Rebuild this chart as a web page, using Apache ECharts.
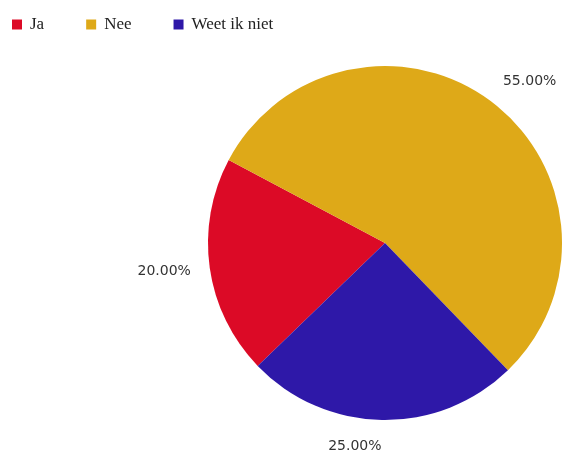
<!DOCTYPE html>
<html style="height: 100%">
  <head>
    <meta charset="utf-8" />
  </head>
  <body style="height: 100%; margin: 0; background: #fff">
    <div id="container" style="width: 562px; height: 457px"></div>

    <script src="https://cdn.jsdelivr.net/npm/echarts@6/dist/echarts.min.js"></script>
    <script type="text/javascript">
      var categories = ["Ja", "Nee", "Weet ik niet"];
      var values = [20, 55, 25];
      var colors = ["#dc0a26", "#dea918", "#2e18a8"];

      var dom = document.getElementById("container");
      var myChart = echarts.init(dom);

      var pieCenter = [385, 243];
      var pieRadius = 177;
      var startAngle = 224;
      var labelRadius = 196;

      var pieData = [];
      for (var i = 0; i < categories.length; i++) {
        pieData.push({
          name: categories[i],
          value: values[i],
          itemStyle: { color: colors[i] },
        });
      }

      var total = 0;
      values.forEach(function (v) {
        total += v;
      });

      // place labels just outside the slice, pushed out by half the box
      function placeLabel(params) {
        var cum = 0;
        for (var k = 0; k < params.dataIndex; k++) cum += values[k];
        var mid = cum + values[params.dataIndex] / 2;
        var ang = ((startAngle - (mid / total) * 360) * Math.PI) / 180;
        var ux = Math.cos(ang);
        var uy = -Math.sin(ang);
        var w = params.labelRect.width;
        var h = params.labelRect.height;
        return {
          x: pieCenter[0] + ux * labelRadius + (ux >= 0 ? 1 : -1) * (w / 2),
          y: pieCenter[1] + uy * labelRadius + uy * (h / 2),
          align: "center",
          verticalAlign: "middle",
        };
      }

      var option = {
        animation: false,
        legend: {
          left: 7,
          top: 11,
          itemWidth: 10,
          itemHeight: 10,
          itemGap: 42,
          icon: "rect",
          textStyle: {
            fontFamily: "Liberation Serif",
            fontSize: 17,
            color: "#222",
            padding: [0, 0, 0, 3],
          },
          data: categories,
        },
        series: [
          {
            type: "pie",
            center: pieCenter,
            radius: pieRadius,
            startAngle: startAngle,
            clockwise: true,
            data: pieData,
            label: {
              show: true,
              position: "outside",
              bleedMargin: 0,
              overflow: "none",
              formatter: function (p) {
                return p.percent.toFixed(2) + "%";
              },
              fontFamily: "DejaVu Sans",
              fontSize: 14,
              color: "#333",
            },
            labelLine: { show: false, length: 20, length2: 0 },
            labelLayout: placeLabel,
            emphasis: { disabled: true },
          },
        ],
      };
      myChart.setOption(option);
    </script>
  </body>
</html>
